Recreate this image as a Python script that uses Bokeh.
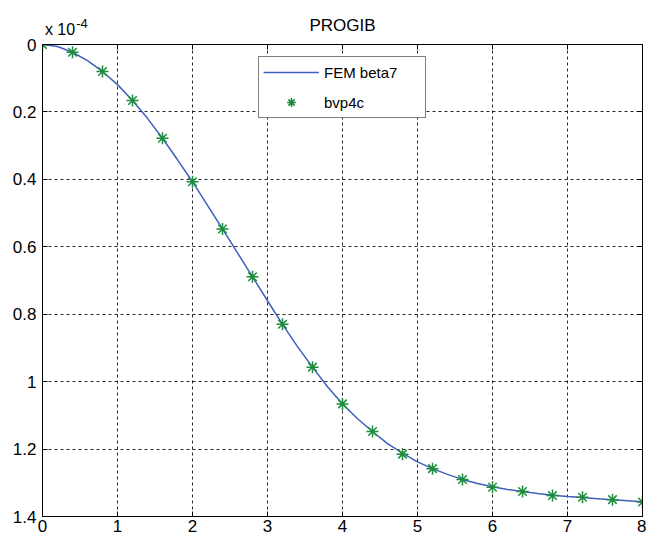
from bokeh.plotting import figure
from bokeh.models import Range1d, FixedTicker, CustomJSTickFormatter, Legend, LegendItem, LinearAxis
from bokeh.embed import file_html
from bokeh.resources import INLINE

# Data (deflection in units of 1e-4)
fem_x = [0.0, 0.2, 0.4, 0.6, 0.8, 1.0, 1.2, 1.4, 1.6, 1.8, 2.0, 2.2, 2.4, 2.6, 2.8, 3.0, 3.2, 3.4, 3.6, 3.8,
         4.0, 4.2, 4.4, 4.6, 4.8, 5.0, 5.2, 5.4, 5.6, 5.8, 6.0, 6.2, 6.4, 6.6, 6.8, 7.0, 7.2, 7.4, 7.6, 7.8, 8.0]
fem_y = [0.000, 0.006, 0.023, 0.048, 0.080, 0.119, 0.166, 0.219, 0.278, 0.342, 0.407, 0.477, 0.547, 0.618,
         0.689, 0.760, 0.830, 0.896, 0.957, 1.015, 1.066, 1.110, 1.148, 1.184, 1.212, 1.238, 1.258, 1.275,
         1.290, 1.302, 1.312, 1.320, 1.326, 1.332, 1.337, 1.341, 1.344, 1.347, 1.350, 1.353, 1.356]
bvp_x = [0.0, 0.4, 0.8, 1.2, 1.6, 2.0, 2.4, 2.8, 3.2, 3.6, 4.0, 4.4, 4.8, 5.2, 5.6, 6.0, 6.4, 6.8, 7.2, 7.6, 8.0]
bvp_y = [0.000, 0.023, 0.080, 0.166, 0.278, 0.407, 0.547, 0.689, 0.830, 0.957, 1.066, 1.148, 1.215, 1.258,
         1.290, 1.313, 1.326, 1.338, 1.343, 1.350, 1.357]
x_ticks = [0, 1, 2, 3, 4, 5, 6, 7, 8]
y_ticks = [0, 0.2, 0.4, 0.6, 0.8, 1.0, 1.2, 1.4]
title_text = "PROGIB"
scale_base = "x 10"
scale_exp = "-4"

FONT = "Liberation Sans"

p = figure(frame_width=600, frame_height=472, output_backend="svg", toolbar_location=None,
           x_range=Range1d(0, 8), y_range=Range1d(1.4, 0),
           min_border_left=42, min_border_right=4, min_border_top=44, min_border_bottom=20)
p.extra_x_ranges = {"lab": Range1d(0, 600)}
p.background_fill_color = "white"
p.border_fill_color = "white"
p.outline_line_color = "black"
p.outline_line_width = 1

for ax in (p.xaxis[0], p.yaxis[0]):
    ax.major_tick_in = 5
    ax.major_tick_out = 0
    ax.minor_tick_line_color = None
    ax.axis_line_color = "black"
    ax.major_tick_line_color = "black"
    ax.major_label_text_font = FONT
    ax.major_label_text_font_size = "17px"
    ax.major_label_text_color = "black"

p.xaxis[0].ticker = FixedTicker(ticks=x_ticks)
p.yaxis[0].ticker = FixedTicker(ticks=y_ticks)
p.xaxis[0].major_label_standoff = 3
p.yaxis[0].major_label_standoff = 6
p.yaxis[0].formatter = CustomJSTickFormatter(code="return Number(tick.toFixed(1)).toString();")

# box ticks on top and right (no labels)
top_ticks = LinearAxis(ticker=FixedTicker(ticks=x_ticks), major_tick_in=5, major_tick_out=0,
                       minor_tick_line_color=None, axis_line_color="black", major_tick_line_color="black",
                       major_label_standoff=0, major_label_text_font_size="0px",
                       formatter=CustomJSTickFormatter(code="return '';"))
p.add_layout(top_ticks, "above")
right_ticks = LinearAxis(ticker=FixedTicker(ticks=y_ticks), major_tick_in=5, major_tick_out=0,
                         minor_tick_line_color=None, axis_line_color="black", major_tick_line_color="black",
                         major_label_standoff=0, major_label_text_font_size="0px",
                         formatter=CustomJSTickFormatter(code="return '';"))
p.add_layout(right_ticks, "right")

for g in (p.xgrid[0], p.ygrid[0]):
    g.grid_line_color = "black"
    g.grid_line_dash = "3 3"
    g.grid_line_alpha = 0.85
    g.grid_line_width = 1

line_r = p.line(fem_x, fem_y, line_color="#3f5fbf", line_width=1.5)
pts_r = p.scatter(bvp_x, bvp_y, marker="asterisk", size=12, line_color="#1e8c3c", line_width=1.5)

legend = Legend(items=[LegendItem(label="FEM beta7", renderers=[line_r]),
                       LegendItem(label="bvp4c", renderers=[pts_r])],
                location=(216, 398))
legend.label_text_font = FONT
legend.label_text_font_size = "15px"
legend.label_text_color = "black"
legend.glyph_width = 56
legend.glyph_height = 22
legend.label_height = 22
legend.label_width = 97
legend.label_standoff = 5
legend.spacing = 8
legend.padding = 4
legend.margin = 0
legend.border_line_color = "black"
legend.border_line_width = 1
legend.background_fill_color = "white"
legend.background_fill_alpha = 1
p.add_layout(legend, "center")

# Top annotations: "x 10^-4" multiplier and title, drawn as tick/axis labels of hidden top axes
ax_a = LinearAxis(x_range_name="lab", ticker=FixedTicker(ticks=[17.5]),
                  major_label_overrides={17.5: scale_base},
                  axis_line_color=None, major_tick_line_color=None, minor_tick_line_color=None,
                  major_tick_in=0, major_tick_out=0, major_label_standoff=7,
                  major_label_text_font=FONT, major_label_text_font_size="16px", major_label_text_color="black",
                  axis_label=title_text, axis_label_standoff=-17, axis_label_text_font=FONT,
                  axis_label_text_font_size="17px", axis_label_text_font_style="normal",
                  axis_label_text_color="black")
p.add_layout(ax_a, "above")
ax_b = LinearAxis(x_range_name="lab", ticker=FixedTicker(ticks=[39.5]),
                  major_label_overrides={39.5: scale_exp},
                  axis_line_color=None, major_tick_line_color=None, minor_tick_line_color=None,
                  major_tick_in=0, major_tick_out=0, major_label_standoff=-15,
                  major_label_text_font=FONT, major_label_text_font_size="13px", major_label_text_color="black")
p.add_layout(ax_b, "above")

open("out.html", "w").write(file_html(p, INLINE))
